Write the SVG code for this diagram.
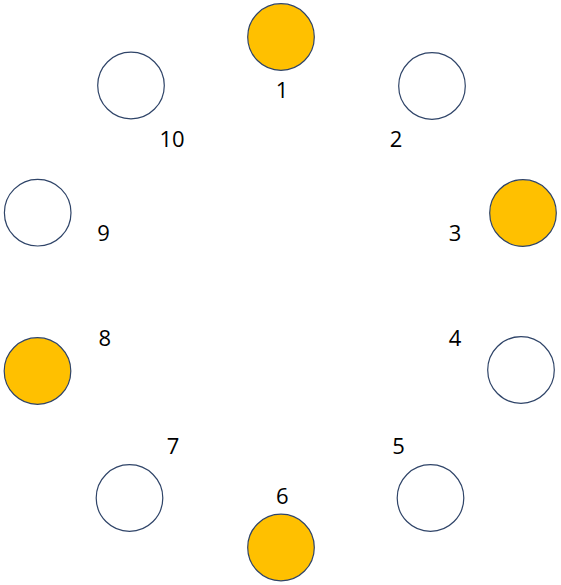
<svg xmlns="http://www.w3.org/2000/svg" width="561" height="585" viewBox="0 0 561 585">
<style>
.n{stroke:#2F4468;stroke-width:1.2;fill:#FFFFFF}
.on{fill:#FFC000}
.t{font-family:"Open Sans","Noto Sans","Liberation Sans",sans-serif;font-size:22px;fill:#000;text-anchor:middle}
</style>
<rect width="561" height="585" fill="#FFFFFF"/>
<g id="connectors"></g>
<g id="node1"><circle class="n on" cx="281" cy="37" r="33.3"/><text class="t" x="282" y="97.5">1</text></g>
<g id="node2"><circle class="n" cx="432" cy="86" r="33.3"/><text class="t" x="396" y="147">2</text></g>
<g id="node3"><circle class="n on" cx="523" cy="213" r="33.3"/><text class="t" x="455" y="240.5">3</text></g>
<g id="node4"><circle class="n" cx="521" cy="370" r="33.3"/><text class="t" x="455" y="346">4</text></g>
<g id="node5"><circle class="n" cx="430.5" cy="498" r="33.3"/><text class="t" x="398.5" y="453.5">5</text></g>
<g id="node6"><circle class="n on" cx="281" cy="547.5" r="33.3"/><text class="t" x="282.3" y="503.5">6</text></g>
<g id="node7"><circle class="n" cx="129.5" cy="498" r="33.3"/><text class="t" x="173" y="453.5">7</text></g>
<g id="node8"><circle class="n on" cx="37.5" cy="371" r="33.3"/><text class="t" x="104.7" y="346">8</text></g>
<g id="node9"><circle class="n" cx="37.7" cy="212.7" r="33.3"/><text class="t" x="103.5" y="240.5">9</text></g>
<g id="node10"><circle class="n" cx="131" cy="85.5" r="33.3"/><text class="t" x="172" y="147">10</text></g>
</svg>
